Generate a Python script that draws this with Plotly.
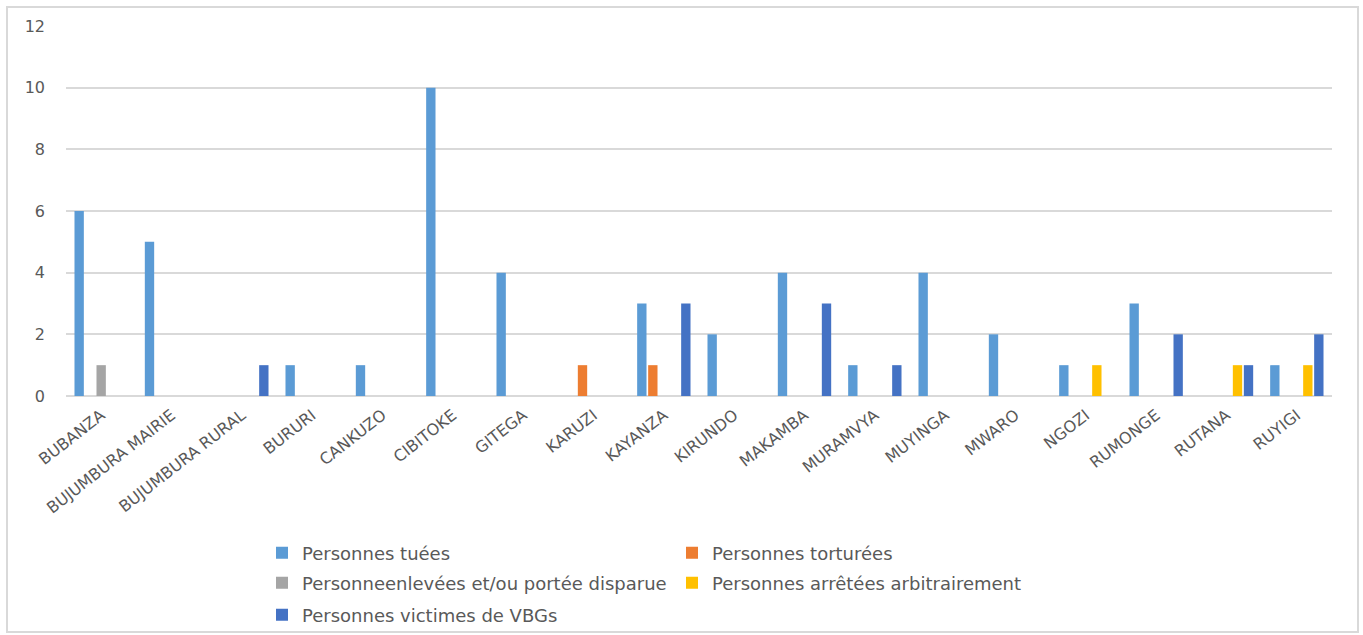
import plotly.graph_objects as go

provinces = ["BUBANZA", "BUJUMBURA MAIRIE", "BUJUMBURA RURAL", "BURURI", "CANKUZO",
             "CIBITOKE", "GITEGA", "KARUZI", "KAYANZA", "KIRUNDO", "MAKAMBA",
             "MURAMVYA", "MUYINGA", "MWARO", "NGOZI", "RUMONGE", "RUTANA", "RUYIGI"]

tuees =      [6, 5, 0, 1, 1, 10, 4, 0, 3, 2, 4, 1, 4, 2, 1, 3, 0, 1]
torturees =  [0, 0, 0, 0, 0, 0, 0, 1, 1, 0, 0, 0, 0, 0, 0, 0, 0, 0]
enlevees =   [1, 0, 0, 0, 0, 0, 0, 0, 0, 0, 0, 0, 0, 0, 0, 0, 0, 0]
arretees =   [0, 0, 0, 0, 0, 0, 0, 0, 0, 0, 0, 0, 0, 0, 1, 0, 1, 1]
vbg =        [0, 0, 1, 0, 0, 0, 0, 0, 3, 0, 3, 1, 0, 0, 0, 2, 1, 2]

series_names = ["Personnes tuées", "Personnes torturées",
                "Personneenlevées et/ou portée disparue",
                "Personnes arrêtées arbitrairement", "Personnes victimes de VBGs"]
series_values = [tuees, torturees, enlevees, arretees, vbg]
colors = ["#5B9BD5", "#ED7D31", "#A5A5A5", "#FFC000", "#4472C4"]
legend_ids = ["legend", "legend", "legend2", "legend2", "legend3"]

fig = go.Figure()
for name, vals, col, lg in zip(series_names, series_values, colors, legend_ids):
    fig.add_trace(go.Bar(x=provinces, y=vals, name=name, marker_color=col,
                         marker_line_width=0, legend=lg))

W, H = 1363, 635
L, R, T, B = 66, 31, 26, 239
ph = H - T - B
pw = W - L - R

def py(pix):
    return (H - B - pix) / ph

def px(pix):
    return (pix - L) / pw

legend_common = dict(orientation="h", xanchor="left", yanchor="middle",
                     entrywidth=365, entrywidthmode="pixels",
                     font=dict(family="DejaVu Sans", size=18, color="#595959"),
                     bgcolor="rgba(0,0,0,0)", itemclick=False, itemdoubleclick=False)

fig.update_layout(
    width=W, height=H,
    margin=dict(l=L, r=R, t=T, b=B, autoexpand=False),
    paper_bgcolor="white", plot_bgcolor="white",
    barmode="group", bargap=0.218, bargroupgap=0.15,
    font=dict(family="DejaVu Sans", color="#595959"),
    xaxis=dict(showgrid=False, showline=False, ticks="", tickangle=-38,
               ticklabelstandoff=6,
               tickfont=dict(size=16, color="#595959", family="DejaVu Sans")),
    yaxis=dict(range=[0, 12], dtick=2, showgrid=True, gridcolor="#d9d9d9",
               gridwidth=1.5, zeroline=True, zerolinecolor="#d9d9d9", zerolinewidth=1.5,
               showline=False, ticks="", ticklabelstandoff=20,
               tickfont=dict(size=16, color="#595959", family="DejaVu Sans")),
    legend=dict(x=px(262), y=py(553), **legend_common),
    legend2=dict(x=px(262), y=py(583), **legend_common),
    legend3=dict(x=px(262), y=py(615), **legend_common),
    shapes=[dict(type="rect", xref="paper", yref="paper",
                 x0=px(7), x1=px(1358), y0=py(632), y1=py(7),
                 line=dict(color="#d9d9d9", width=2), fillcolor="rgba(0,0,0,0)",
                 layer="below")],
)

fig.write_html("out.html", config={"displayModeBar": False})
